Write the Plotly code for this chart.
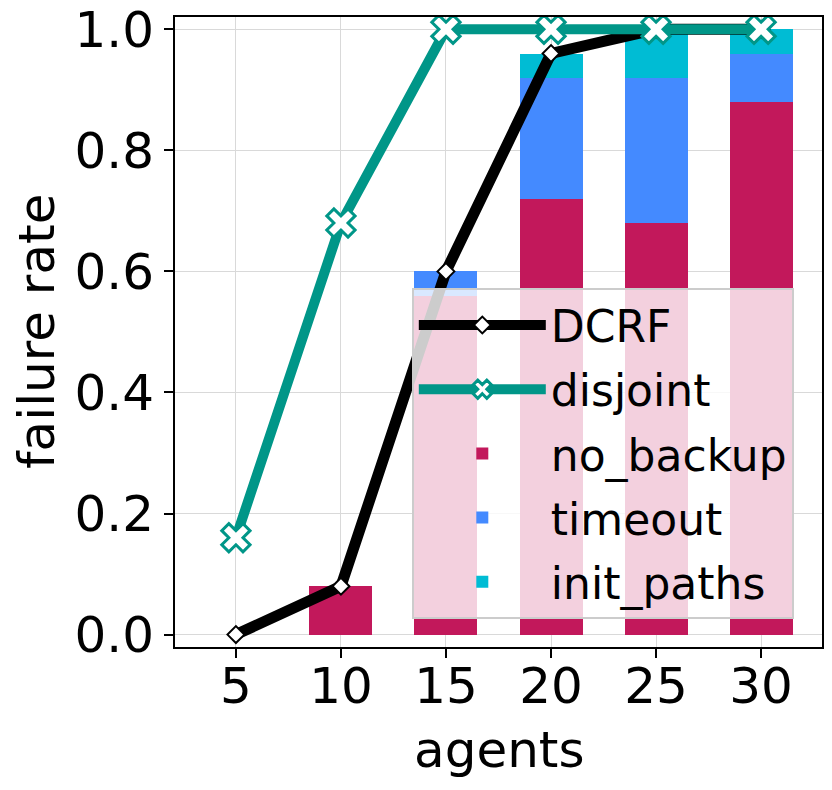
import plotly.graph_objects as go

agents = [5, 10, 15, 20, 25, 30]

dcrf = [0.0, 0.08, 0.60, 0.96, 1.0, 1.0]
disjoint = [0.16, 0.68, 1.0, 1.0, 1.0, 1.0]

no_backup = [0.0, 0.08, 0.56, 0.72, 0.68, 0.88]
timeout = [0.0, 0.0, 0.04, 0.20, 0.24, 0.08]
init_paths = [0.0, 0.0, 0.0, 0.04, 0.08, 0.04]

y_ticks = [0.0, 0.2, 0.4, 0.6, 0.8, 1.0]

FONT = "DejaVu Sans"

fig = go.Figure()

# stacked failure reasons
for i, (name, vals, color) in enumerate([
    ("no_backup", no_backup, "#C2185B"),
    ("timeout", timeout, "#448AFF"),
    ("init_paths", init_paths, "#00BCD4"),
]):
    fig.add_trace(go.Bar(
        x=agents, y=vals, name=name, width=3,
        marker=dict(color=color, line=dict(width=0)),
        legendgroup=name, legendrank=3 + i,
    ))

# DCRF first so the disjoint line sits on top of it at 1.0
fig.add_trace(go.Scatter(
    x=agents, y=dcrf, name="DCRF", mode="lines+markers",
    line=dict(color="black", width=11),
    marker=dict(symbol="diamond", size=13, color="white", line=dict(color="black", width=2)),
    legendgroup="DCRF", legendrank=1,
))
fig.add_trace(go.Scatter(
    x=agents, y=disjoint, name="disjoint", mode="lines+markers",
    line=dict(color="#009688", width=10),
    marker=dict(symbol="x", size=25, color="white", line=dict(color="#009688", width=3)),
    legendgroup="disjoint", legendrank=2,
))

# page body adds 8px, so the figure is a bit smaller than the window
fig.update_layout(
    width=824, height=782,
    margin=dict(l=167, r=10, t=9, b=143),
    plot_bgcolor="white", paper_bgcolor="white",
    barmode="stack",
    font=dict(family=FONT, size=50, color="black"),
    showlegend=True,
    legend=dict(
        x=0.366, y=0.57, xanchor="left", yanchor="top",
        bgcolor="rgba(255,255,255,0.8)",
        bordercolor="#cccccc", borderwidth=2,
        font=dict(family=FONT, size=44, color="black"),
        itemwidth=127, tracegroupgap=4,
        traceorder="grouped",
    ),
)

fig.add_annotation(text="agents", xref="paper", yref="paper", x=0.5, y=0,
                   xanchor="center", yanchor="middle", yshift=-103,
                   showarrow=False, font=dict(size=50))
fig.add_annotation(text="failure rate", xref="paper", yref="paper", x=0, y=0.5,
                   xanchor="center", yanchor="middle", xshift=-138, textangle=-90,
                   showarrow=False, font=dict(size=50))

fig.update_xaxes(
    range=[2.1, 32.9], tickvals=agents, ticktext=[str(a) for a in agents],
    showgrid=True, gridcolor="#d9d9d9", gridwidth=1,
    showline=True, linecolor="black", linewidth=2, mirror=True,
    ticks="outside", ticklen=9, tickwidth=2, tickcolor="black",
    ticklabelstandoff=-15, automargin=False,
    zeroline=False,
)
fig.update_yaxes(
    range=[-0.0205, 1.0203], tickvals=y_ticks, ticktext=[f"{v:.1f}" for v in y_ticks],
    showgrid=True, gridcolor="#d9d9d9", gridwidth=1,
    showline=True, linecolor="black", linewidth=2, mirror=True,
    ticks="outside", ticklen=9, tickwidth=2, tickcolor="black",
    ticklabeloverflow="allow", automargin=False,
    zeroline=False,
)

fig.write_html("out.html")
